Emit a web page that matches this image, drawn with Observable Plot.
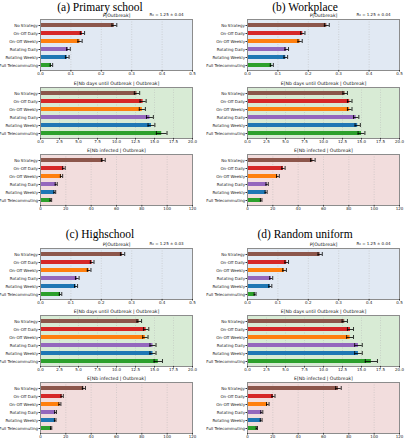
<!DOCTYPE html>
<html>
<head>
<meta charset="utf-8">
<script src="https://cdn.jsdelivr.net/npm/d3@7"></script>
<script src="https://cdn.jsdelivr.net/npm/@observablehq/plot@0.6"></script>
<style>
  html, body { margin: 0; padding: 0; background: white; }
  #root { position: relative; width: 405px; height: 440px; background: white; overflow: hidden; }
  .ptitle { position: absolute; width: 200px; text-align: center; font-family: "Liberation Serif", "DejaVu Serif", serif; font-size: 11.5px; line-height: 12px; color: #000; }
  .sub { position: absolute; }
</style>
</head>
<body>
<div id="root"></div>
<script>
// ---------- data ----------
const strategies = ["No Strategy", "On-Off Daily", "On-Off Weekly", "Rotating Daily", "Rotating Weekly", "Full Telecommuting"];
const barColors = ["#8c564b", "#d62728", "#ff7f0e", "#9467bd", "#1f77b4", "#2ca02c"];
const panelTitles = ["(a) Primary school", "(b) Workplace", "(c) Highschool", "(d) Random uniform"];
const r0Labels = ["R₀ = 1.25 ± 0.04", "R₀ = 1.25 ± 0.04", "R₀ = 1.25 ± 0.03", "R₀ = 1.25 ± 0.04"];
const metricTitles = ["P[Outbreak]", "E[Nb days until Outbreak | Outbreak]", "E[Nb infected | Outbreak]"];
const pTicks = [0, 0.1, 0.2, 0.3, 0.4, 0.5];
const daysTicks = [0, 2.5, 5, 7.5, 10, 12.5, 15, 17.5, 20];
const infTicks = [0, 20, 40, 60, 80, 100, 120];

// (a) Primary school
const pA = [0.243, 0.138, 0.130, 0.092, 0.088, 0.036];
const pErrA = [0.008, 0.007, 0.007, 0.006, 0.006, 0.004];
const daysA = [12.7, 13.5, 13.4, 14.4, 14.6, 15.95];
const daysErrA = [0.35, 0.4, 0.4, 0.45, 0.45, 0.7];
const infA = [49.6, 18.5, 16.6, 12.4, 11.3, 8.2];
const infErrA = [1.5, 1.0, 0.9, 0.8, 0.7, 0.6];
// (b) Workplace
const pB = [0.261, 0.182, 0.173, 0.129, 0.126, 0.080];
const pErrB = [0.008, 0.007, 0.007, 0.006, 0.006, 0.005];
const daysB = [12.85, 13.45, 13.45, 14.3, 14.5, 15.0];
const daysErrB = [0.3, 0.3, 0.3, 0.35, 0.35, 0.45];
const infB = [51.6, 28.4, 24.0, 15.5, 14.7, 10.8];
const infErrB = [1.8, 1.3, 1.1, 0.9, 0.8, 0.6];
// (c) Highschool
const pC = [0.270, 0.170, 0.160, 0.121, 0.117, 0.066];
const pErrC = [0.007, 0.006, 0.006, 0.006, 0.005, 0.004];
const daysC = [13.0, 13.9, 13.8, 14.8, 14.8, 15.5];
const daysErrC = [0.3, 0.35, 0.35, 0.4, 0.4, 0.55];
const infC = [34.3, 17.1, 15.3, 11.9, 11.6, 8.4];
const infErrC = [1.2, 0.9, 0.8, 0.7, 0.6, 0.5];
// (d) Random uniform
const pD = [0.239, 0.129, 0.122, 0.078, 0.075, 0.025];
const pErrD = [0.007, 0.006, 0.006, 0.005, 0.005, 0.003];
const daysD = [12.8, 13.55, 13.5, 14.6, 14.6, 16.3];
const daysErrD = [0.35, 0.4, 0.45, 0.5, 0.5, 0.8];
const infD = [71.8, 20.5, 16.0, 11.3, 10.8, 7.4];
const infErrD = [2.2, 1.2, 1.0, 0.8, 0.7, 0.5];

// ---------- build ----------
const panels = [
  [[pA, pErrA], [daysA, daysErrA], [infA, infErrA]],
  [[pB, pErrB], [daysB, daysErrB], [infB, infErrB]],
  [[pC, pErrC], [daysC, daysErrC], [infC, infErrC]],
  [[pD, pErrD], [daysD, daysErrD], [infD, infErrD]]
];
const metricTicks = [pTicks, daysTicks, infTicks];
const metricFormats = [d3.format(".1f"), d3.format(".1f"), d3.format("d")];
const bgColors = ["#e1e9f3", "#d8ebd5", "#f2dddd"];

const root = document.getElementById("root");
const colLeft = [0, 205];
const frameLeftM = [40, 42];
const frameRightM = [8, 6];
const titleTop = [1, 228];
const frameTops = [[19, 87, 154], [248, 315, 382]];
const frameH = 51, mTop = 12, mBot = 8;

function subplot(values, errs, m, r0, col) {
  const data = strategies.map((s, i) => ({s, v: values[i], e: errs[i], c: barColors[i]}));
  const ticks = metricTicks[m];
  const marks = [
    Plot.frame({fill: bgColors[m], stroke: null}),
    Plot.gridX(ticks, {stroke: "#b8b8b8", strokeOpacity: 1, strokeWidth: 0.5, strokeDasharray: "1,1.5"}),
    Plot.barX(data, {x: "v", y: "s", fill: "c"}),
    Plot.ruleY(data, {y: "s", x1: d => d.v - d.e, x2: d => d.v + d.e, stroke: "black", strokeWidth: 0.8}),
    Plot.tickX(data, {y: "s", x: d => d.v - d.e, stroke: "black", strokeWidth: 0.8}),
    Plot.tickX(data, {y: "s", x: d => d.v + d.e, stroke: "black", strokeWidth: 0.8}),
    Plot.frame({stroke: "#8c8c8c", strokeWidth: 1}),
    Plot.axisX(ticks, {tickFormat: metricFormats[m], tickSize: 1.5, tickPadding: 0.5, fontSize: 4, label: null, stroke: "#333"}),
    Plot.axisY({tickSize: 1.5, tickPadding: 1, fontSize: 4, label: null, stroke: "#333"}),
    Plot.text([metricTitles[m]], {frameAnchor: "top", dy: -2.2, lineAnchor: "bottom", fontSize: 4.6, fill: "#111"})
  ];
  if (r0) marks.push(Plot.text([r0], {frameAnchor: "top-right", dx: -9, dy: -4, lineAnchor: "bottom", textAnchor: "end", fontSize: 4, fill: "#111"}));
  return Plot.plot({
    width: 200,
    height: mTop + frameH + mBot,
    marginLeft: frameLeftM[col],
    marginRight: frameRightM[col],
    marginTop: mTop,
    marginBottom: mBot,
    style: {background: "transparent", overflow: "visible", fontFamily: "DejaVu Sans", fontSize: "4px", color: "#222"},
    x: {domain: [0, d3.max(ticks)]},
    y: {domain: strategies, paddingInner: 0.5, paddingOuter: 0.215},
    marks
  });
}

panels.forEach((panel, p) => {
  const col = p % 2, row = Math.floor(p / 2);
  const t = document.createElement("div");
  t.className = "ptitle";
  t.style.left = colLeft[col] + "px";
  t.style.top = titleTop[row] + "px";
  t.textContent = panelTitles[p];
  root.appendChild(t);
  panel.forEach(([vals, errs], m) => {
    const svg = subplot(vals, errs, m, m === 0 ? r0Labels[p] : null, col);
    const wrap = document.createElement("div");
    wrap.className = "sub";
    wrap.style.left = colLeft[col] + "px";
    wrap.style.top = (frameTops[row][m] - mTop) + "px";
    wrap.appendChild(svg);
    root.appendChild(wrap);
  });
});
</script>
</body>
</html>
